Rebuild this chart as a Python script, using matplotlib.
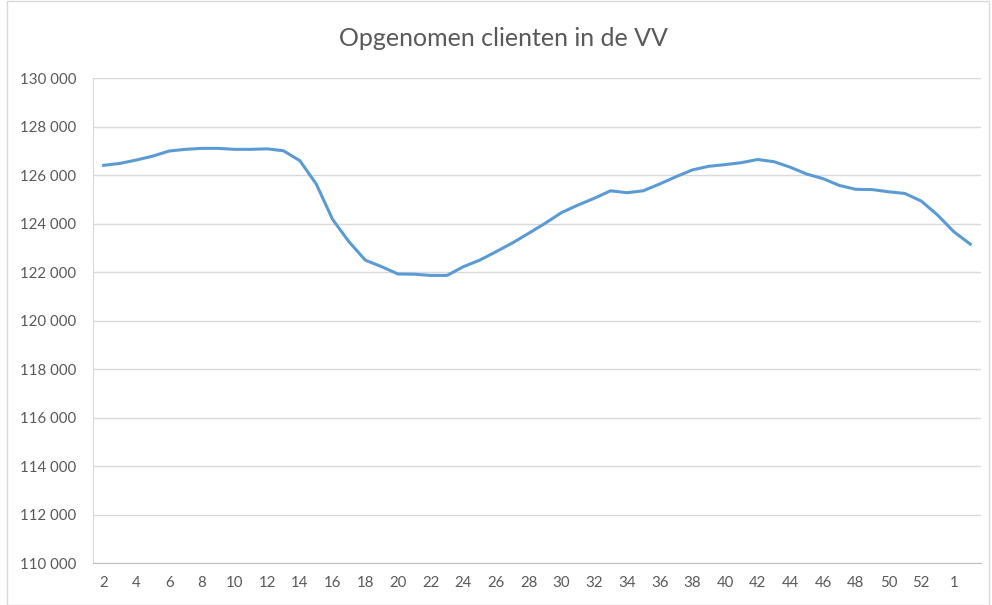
import matplotlib.pyplot as plt
from matplotlib.ticker import FuncFormatter, MultipleLocator
from matplotlib.patches import Rectangle

# weken: 2..53 van het eerste jaar, dan 1 en 2 van het volgende
weken = [str(w) for w in range(2, 54)] + ["1", "2"]
clienten = [
    126400, 126480, 126620, 126780, 126990, 127060, 127100, 127100, 127060, 127060,
    127080, 127000, 126590, 125630, 124170, 123250, 122490, 122220, 121920, 121910,
    121860, 121860, 122220, 122490, 122840, 123200, 123600, 124010, 124450, 124760,
    125040, 125350, 125270, 125350, 125630, 125930, 126210, 126360, 126430, 126510,
    126640, 126550, 126320, 126040, 125850, 125570, 125410, 125400, 125310, 125240,
    124930, 124350, 123660, 123150,
]
titel = "Opgenomen clienten in de VV"

plt.rcParams['font.family'] = ['Lato', 'DejaVu Sans']
grijs = '#595959'

fig = plt.figure(figsize=(9.92, 6.05), dpi=100)
ax = fig.add_axes([0.0938, 0.0694, 0.895, 0.8016])

x = list(range(len(weken)))
ax.plot(x, clienten, color='#5B9BD5', linewidth=2.2, solid_joinstyle='round')

ax.set_xlim(-0.65, len(weken) - 0.35)
ax.set_ylim(110000, 130000)
ax.yaxis.set_major_locator(MultipleLocator(2000))
ax.yaxis.set_major_formatter(FuncFormatter(lambda v, p: f"{int(v):,}".replace(",", " ")))
ax.set_xticks(x[::2])
ax.set_xticklabels(weken[::2])
ax.tick_params(axis='both', length=0, labelsize=10.8, colors=grijs)
ax.tick_params(axis='x', pad=9)
ax.tick_params(axis='y', pad=12)

ax.grid(axis='y', color='#D9D9D9', linewidth=1)
ax.set_axisbelow(True)
for kant in ['top', 'right']:
    ax.spines[kant].set_visible(False)
ax.spines['left'].set_color('#D9D9D9')
ax.spines['bottom'].set_color('#BFBFBF')

fig.text(0.507, 0.937, titel, ha='center', va='center', fontsize=18, color=grijs)
fig.patches.append(Rectangle((0.007, 0.0), 0.99, 0.998, transform=fig.transFigure,
                             fill=False, edgecolor='#D9D9D9', linewidth=1))

plt.savefig('out.png', dpi=100)
